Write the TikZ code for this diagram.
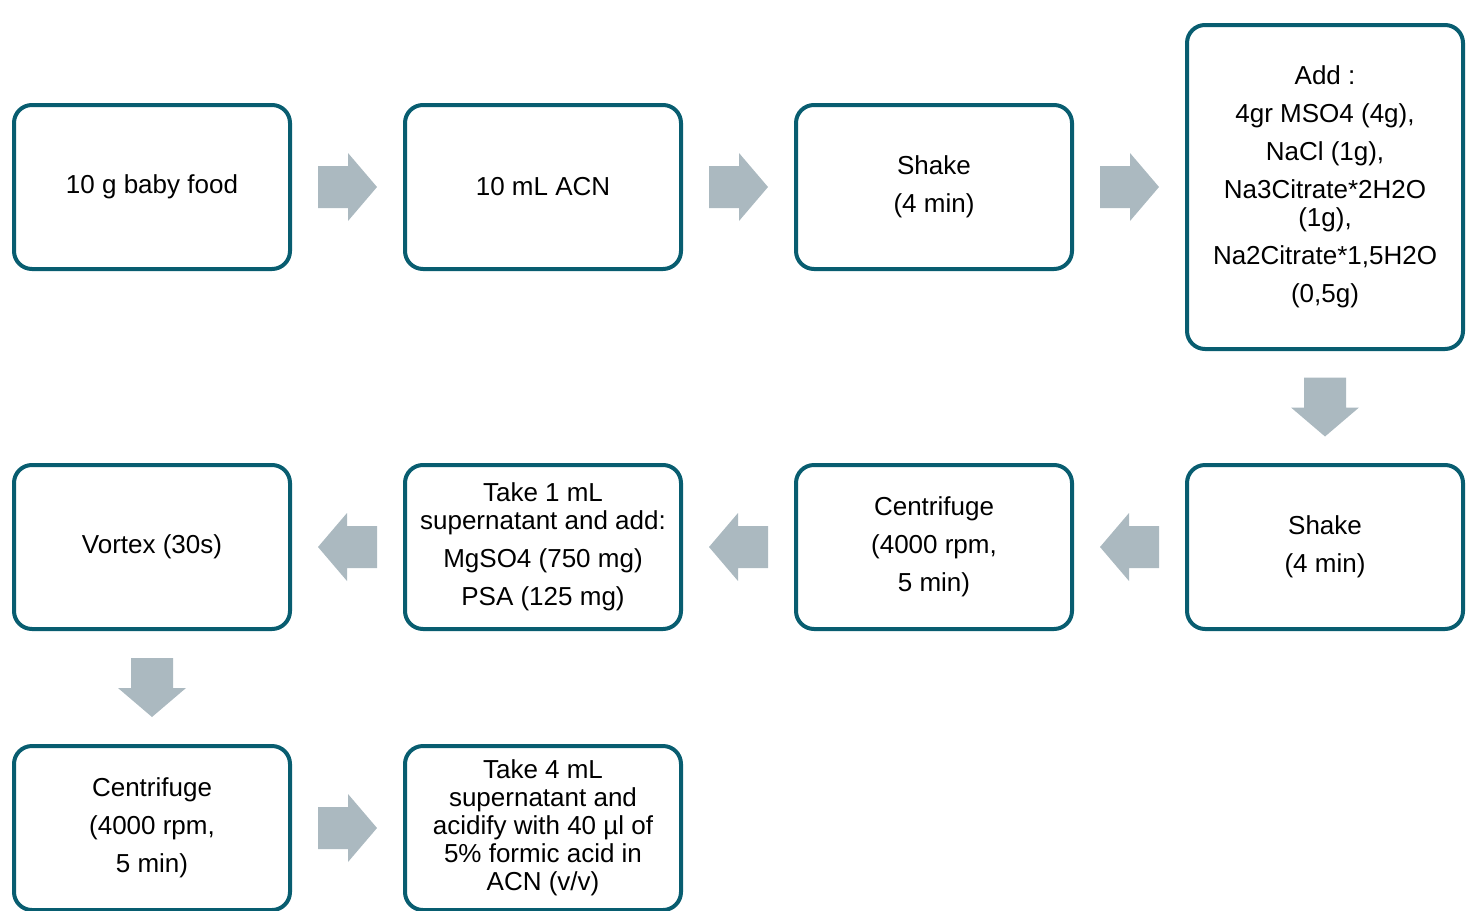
\documentclass[tikz,border=0pt]{standalone}
\usepackage{fontspec}
\setmainfont{Liberation Sans}
\usetikzlibrary{calc}
\definecolor{boxteal}{RGB}{8,93,112}
\definecolor{arrowgrey}{RGB}{171,185,192}
\tikzset{
  stepbox/.style={draw=boxteal, line width=4pt, rounded corners=18pt, fill=white,
    minimum width=276pt, minimum height=164pt, inner sep=0pt, align=center,
    font=\fontsize{26}{28}\selectfont},
  pics/blockarrow/.style={code={%
    \fill[arrowgrey] (-29.5,-21) -- (0.5,-21) -- (0.5,-34) -- (29.5,0)
      -- (0.5,34) -- (0.5,21) -- (-29.5,21) -- cycle;}}
}
\begin{document}
\begin{tikzpicture}[x=1pt,y=-1pt]
  \useasboundingbox (0,0) rectangle (1466,910);
  \clip (0,0) rectangle (1466,910);

  % First row of steps
  \node[stepbox] (food) at (152,187) {10 g baby food};
  \node[stepbox] (acn) at (543,187) {10 mL ACN};
  \node[stepbox] (shakeA) at (934,187) {Shake\\[10pt](4 min)};
  \node[stepbox, minimum height=324pt] (salts) at (1325,187)
    {Add :\\[10pt]4gr MSO4 (4g),\\[10pt]NaCl (1g),\\[10pt]Na3Citrate*2H2O\\(1g),\\[10pt]Na2Citrate*1,5H2O\\[10pt](0,5g)};

  % Second row of steps
  \node[stepbox] (shakeB) at (1325,547) {Shake\\[10pt](4 min)};
  \node[stepbox] (spinA) at (934,547) {Centrifuge\\[10pt](4000 rpm,\\[10pt]5 min)};
  \node[stepbox] (cleanup) at (543,547) {Take 1 mL\\supernatant and add:\\[10pt]MgSO4 (750 mg)\\[10pt]PSA (125 mg)};
  \node[stepbox] (vortex) at (152,547) {Vortex (30s)};

  % Third row of steps (cut by the lower edge)
  \node[stepbox] (spinB) at (152,828) {Centrifuge\\[10pt](4000 rpm,\\[10pt]5 min)};
  \node[stepbox] (acidify) at (543,828) {Take 4 mL\\supernatant and\\acidify with 40 µl of\\5\% formic acid in\\ACN (v/v)};

  % Block arrows between steps
  \pic at ($(food.east)!0.5!(acn.west)$) {blockarrow};
  \pic at ($(acn.east)!0.5!(shakeA.west)$) {blockarrow};
  \pic at ($(shakeA.east)!0.5!(salts.west)$) {blockarrow};
  \pic[rotate=-90] at ($(salts.south)!0.5!(shakeB.north)$) {blockarrow};
  \pic[rotate=180] at ($(shakeB.west)!0.5!(spinA.east)$) {blockarrow};
  \pic[rotate=180] at ($(spinA.west)!0.5!(cleanup.east)$) {blockarrow};
  \pic[rotate=180] at ($(cleanup.west)!0.5!(vortex.east)$) {blockarrow};
  \pic[rotate=-90] at ($(vortex.south)!0.5!(spinB.north)$) {blockarrow};
  \pic at ($(spinB.east)!0.5!(acidify.west)$) {blockarrow};
\end{tikzpicture}
\end{document}
